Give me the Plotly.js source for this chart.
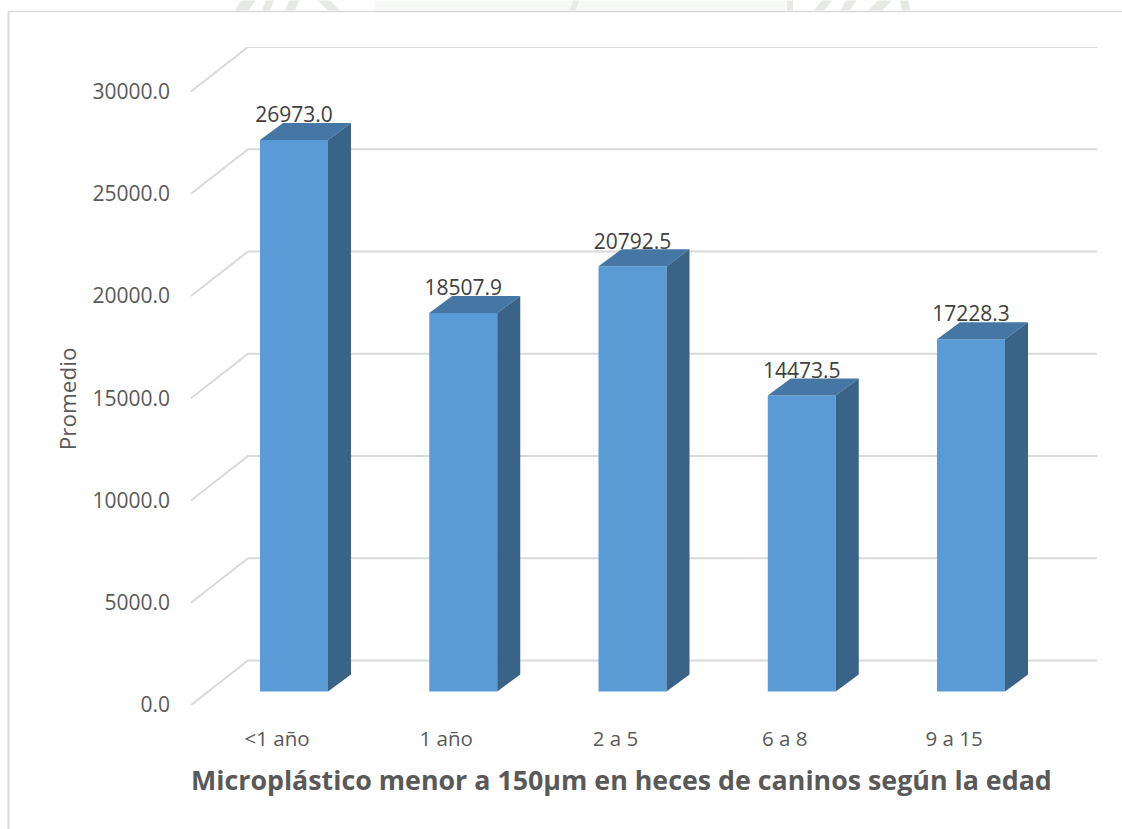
<!DOCTYPE html>
<html>
<head>
<meta charset="utf-8">
<script src="https://cdn.plot.ly/plotly-3.0.1.min.js"></script>
<style>html,body{margin:0;padding:0;background:#fff;overflow:hidden}</style>
</head>
<body>
<div id="chart" style="width:1122px;height:829px"></div>
<script>
const categories = ["<1 año", "1 año", "2 a 5", "6 a 8", "9 a 15"];
const promedio = [26973.0, 18507.9, 20792.5, 14473.5, 17228.3];
const gridValues = [0, 5000, 10000, 15000, 20000, 25000, 30000];

const W = 1122, H = 829;
const plotL = 190, plotR = 1097, plotT = 46.5, plotB = 705;
const pxPerCat = 169.25, firstCenter = 294;
const unitsPerPx = 30000 / 614;
const cat = p => p / pxPerCat;
const val = p => p * unitsPerPx;

const xRange = [cat(plotL - firstCenter), cat(plotR - firstCenter)];
const yRange = [0, val(plotB - plotT)];

const barWidth = cat(68), half = barWidth / 2;
const barBase = val(13.5);
const depthX = cat(23), depthY = val(17);
const wallX = cat(58), wallY = val(44.5);

const FRONT = "#5b9bd5", TOP = "#4576a4", SIDE = "#396487";
const GRID = "#d9d9d9";

const xs = categories.map((_, i) => i);
const topX = [], topY = [], sideX = [], sideY = [];
promedio.forEach((v, i) => {
  const l = i - half, r = i + half, t = barBase + v;
  topX.push(l, r, r + depthX, l + depthX, l, null);
  topY.push(t, t, t + depthY, t + depthY, t, null);
  sideX.push(r, r + depthX, r + depthX, r, r, null);
  sideY.push(barBase, barBase + depthY, t + depthY, t, barBase, null);
});

const traces = [
  {type: "bar", x: xs, y: promedio, base: barBase, width: barWidth,
   marker: {color: FRONT, line: {width: 0}}, hoverinfo: "skip", showlegend: false},
  {type: "scatter", mode: "lines", x: topX, y: topY, fill: "toself", fillcolor: TOP,
   line: {width: 0, color: TOP}, hoverinfo: "skip", showlegend: false},
  {type: "scatter", mode: "lines", x: sideX, y: sideY, fill: "toself", fillcolor: SIDE,
   line: {width: 0, color: SIDE}, hoverinfo: "skip", showlegend: false},
  {type: "scatter", mode: "text", x: xs, y: promedio.map(v => barBase + v + val(23)),
   text: promedio.map(v => v.toFixed(1)), textposition: "middle center",
   textfont: {family: "Open Sans", size: 21, color: "#404040"},
   hoverinfo: "skip", showlegend: false}
];

const shapes = [];
const px = p => (p - plotL) / (plotR - plotL);
const py = p => (plotB - p) / (plotB - plotT);

// faint background remnants above the chart frame
const wm = "#e6e9e4", band = "#f7f9f7";
const rect = (x0, x1, c) => shapes.push({type: "rect", xref: "paper", yref: "paper",
  x0: px(x0), x1: px(x1), y0: py(10), y1: py(0), fillcolor: c, line: {width: 0}, layer: "below"});
const para = (x0, x1, s, c) => shapes.push({type: "path", xref: "paper", yref: "paper",
  path: `M${px(x0)},${py(10)} L${px(x1)},${py(10)} L${px(x1 + s)},${py(0)} L${px(x0 + s)},${py(0)} Z`,
  fillcolor: c, line: {width: 0}, layer: "below"});
rect(375, 785, band);
para(570, 576, 3, "#e8ebe6");
para(235, 249, 6, wm); para(262, 270, 4, wm); para(285, 295, 4, wm); para(328, 340, -10, wm);
rect(787, 793, wm); para(814, 824, 8, wm); para(840, 850, 6, wm); para(868, 882, 10, wm); para(902, 910, -2, wm);

// chart frame
shapes.push({type: "line", xref: "paper", yref: "paper", x0: px(8.5), x1: px(8.5), y0: py(11), y1: py(829),
  line: {color: GRID, width: 2}, layer: "below"});
shapes.push({type: "line", xref: "paper", yref: "paper", x0: px(8.5), x1: px(1122), y0: py(11), y1: py(11),
  line: {color: GRID, width: 1.5}, layer: "below"});

// gridlines on the side wall and the back wall
gridValues.forEach(v => {
  shapes.push({type: "path", xref: "x", yref: "y", layer: "below",
    path: `M${xRange[0] + cat(1)},${v} L${xRange[0] + wallX},${v + wallY} L${xRange[1]},${v + wallY}`,
    line: {color: GRID, width: 2}, fillcolor: "rgba(0,0,0,0)"});
});

const layout = {
  width: W, height: H,
  margin: {l: plotL, r: W - plotR, t: plotT, b: H - plotB, pad: 0},
  paper_bgcolor: "#ffffff", plot_bgcolor: "rgba(0,0,0,0)",
  showlegend: false,
  xaxis: {range: xRange, showgrid: false, zeroline: false, showline: false, ticks: "",
    tickmode: "array", tickvals: xs.map(i => i - cat(17)), ticktext: categories,
    ticklabelstandoff: 19, tickfont: {family: "Open Sans", size: 20.5, color: "#595959"}},
  yaxis: {range: yRange, showgrid: false, zeroline: false, showline: false, ticks: "",
    tickmode: "array", tickvals: gridValues, ticktext: gridValues.map(v => v.toFixed(1)),
    ticklabelstandoff: 19, tickfont: {family: "Open Sans", size: 21, color: "#595959"}},
  shapes: shapes,
  annotations: [
    {xref: "paper", yref: "paper", x: px(621), y: py(780), xanchor: "center", yanchor: "middle",
     showarrow: false, text: "Microplástico menor a 150µm en heces de caninos según la edad",
     font: {family: "Open Sans", size: 26.8, color: "#595959", weight: 700}},
    {xref: "paper", yref: "paper", x: px(67), y: py(399), xanchor: "center", yanchor: "middle",
     showarrow: false, textangle: -90, text: "Promedio",
     font: {family: "Open Sans", size: 22.5, color: "#595959"}}
  ]
};

Plotly.newPlot("chart", traces, layout, {displayModeBar: false, staticPlot: true});
</script>
</body>
</html>
